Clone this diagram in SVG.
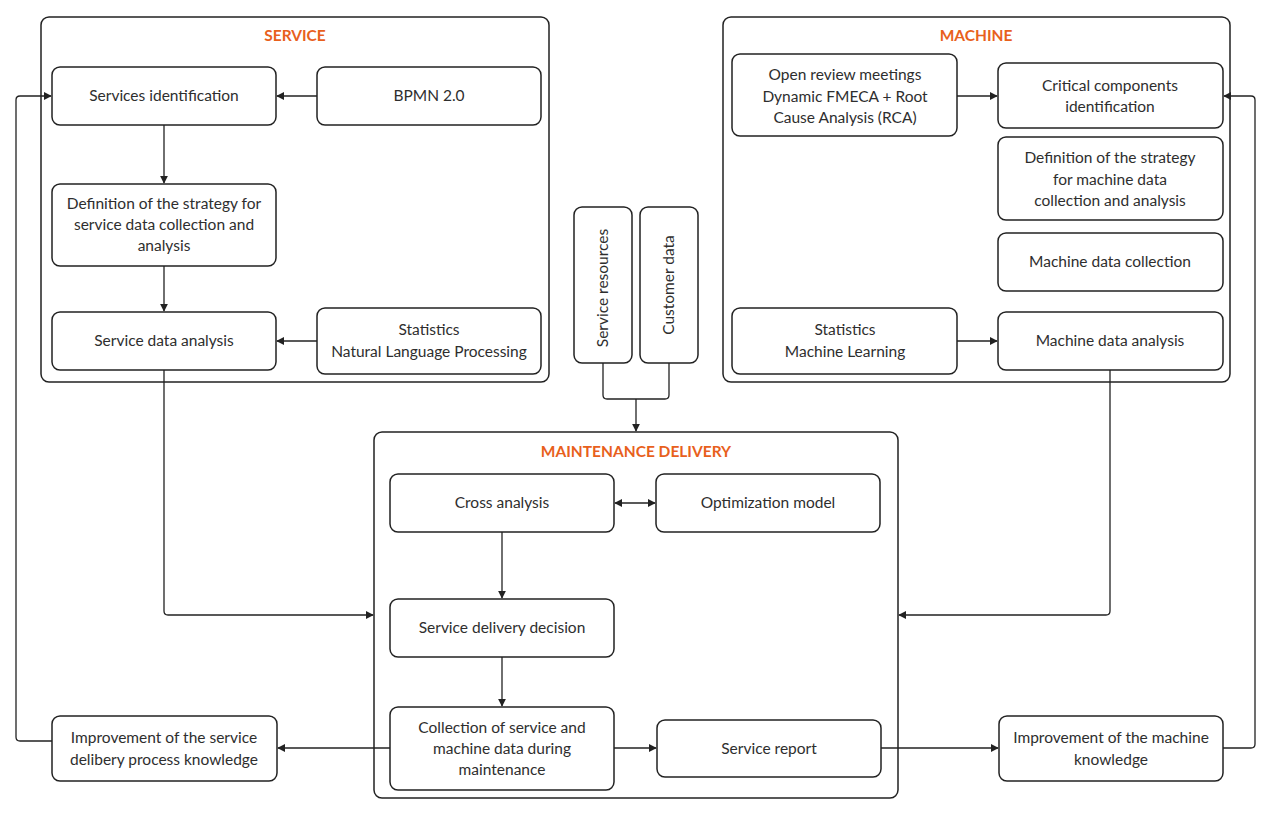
<svg xmlns="http://www.w3.org/2000/svg" width="1272" height="815" viewBox="0 0 1272 815">
<style>
.c{fill:none;stroke:#222;stroke-width:1.5}
.n{fill:#fff;stroke:#222;stroke-width:1.5}
.t{font-family:Lato,"Liberation Sans",sans-serif;font-size:15.5px;fill:#2e2e2e;text-anchor:middle}
.h{font-family:Lato,"Liberation Sans",sans-serif;font-size:15.5px;font-weight:bold;fill:#E8601C;text-anchor:middle}
.e{fill:none;stroke:#222;stroke-width:1.3}
</style>
<defs>
<marker id="a" viewBox="0 0 10 10" refX="9" refY="5" markerWidth="8" markerHeight="8" markerUnits="userSpaceOnUse" orient="auto-start-reverse">
<path d="M0,0 L10,5 L0,10 z" fill="#222"/>
</marker>
</defs>
<rect width="1272" height="815" fill="#fff"/>

<g id="service">
<rect class="c" x="41" y="17" width="508" height="365" rx="8"/>
<text class="h" x="295" y="41">SERVICE</text>
</g>
<g id="machine">
<rect class="c" x="723" y="17" width="507" height="365" rx="8"/>
<text class="h" x="976" y="41">MACHINE</text>
</g>
<g id="maintenance">
<rect class="c" x="374" y="432" width="524" height="366" rx="8"/>
<text class="h" x="636" y="457">MAINTENANCE DELIVERY</text>
</g>

<g id="connectors">
<path class="e" d="M317,96 H277" marker-end="url(#a)"/>
<path class="e" d="M164,125 V183" marker-end="url(#a)"/>
<path class="e" d="M164,266 V311" marker-end="url(#a)"/>
<path class="e" d="M317,341 H277" marker-end="url(#a)"/>
<path class="e" d="M164,370 V611 Q164,615 168,615 H373" marker-end="url(#a)"/>
<path class="e" d="M1110,370 V611 Q1110,615 1106,615 H899" marker-end="url(#a)"/>
<path class="e" d="M957,96 H997" marker-end="url(#a)"/>
<path class="e" d="M957,341 H997" marker-end="url(#a)"/>
<path class="e" d="M615,503 H655" marker-start="url(#a)" marker-end="url(#a)"/>
<path class="e" d="M502,532 V598" marker-end="url(#a)"/>
<path class="e" d="M502,657 V706" marker-end="url(#a)"/>
<path class="e" d="M390,748 H278" marker-end="url(#a)"/>
<path class="e" d="M614,748 H656" marker-end="url(#a)"/>
<path class="e" d="M881,748 H998" marker-end="url(#a)"/>
<path class="e" d="M52,741 H20 Q16,741 16,737 V100 Q16,96 20,96 H51" marker-end="url(#a)"/>
<path class="e" d="M1223,748 H1251 Q1255,748 1255,744 V100 Q1255,96 1251,96 H1224" marker-end="url(#a)"/>
<path class="e" d="M603,363 V395 Q603,399 607,399 H665 Q669,399 669,395 V363"/>
<path class="e" d="M636,399 V431" marker-end="url(#a)"/>
</g>

<g id="services-identification">
<rect class="n" x="52" y="67" width="224" height="58" rx="8"/>
<text class="t" x="164" y="101">Services identification</text>
</g>
<g id="bpmn">
<rect class="n" x="317" y="67" width="224" height="58" rx="8"/>
<text class="t" x="429" y="101">BPMN 2.0</text>
</g>
<g id="service-strategy">
<rect class="n" x="52" y="184" width="224" height="82" rx="8"/>
<text class="t" x="164" y="209">Definition of the strategy for</text>
<text class="t" x="164" y="230">service data collection and</text>
<text class="t" x="164" y="251">analysis</text>
</g>
<g id="service-data-analysis">
<rect class="n" x="52" y="312" width="224" height="58" rx="8"/>
<text class="t" x="164" y="346">Service data analysis</text>
</g>
<g id="stats-nlp">
<rect class="n" x="317" y="308" width="224" height="66" rx="8"/>
<text class="t" x="429" y="335">Statistics</text>
<text class="t" x="429" y="357">Natural Language Processing</text>
</g>

<g id="open-review">
<rect class="n" x="732" y="54" width="225" height="82" rx="8"/>
<text class="t" x="845" y="80">Open review meetings</text>
<text class="t" x="845" y="102">Dynamic FMECA + Root</text>
<text class="t" x="845" y="123">Cause Analysis (RCA)</text>
</g>
<g id="critical-components">
<rect class="n" x="998" y="63" width="225" height="65" rx="8"/>
<text class="t" x="1110" y="91">Critical components</text>
<text class="t" x="1110" y="112">identification</text>
</g>
<g id="machine-strategy">
<rect class="n" x="998" y="137" width="225" height="83" rx="8"/>
<text class="t" x="1110" y="163">Definition of the strategy</text>
<text class="t" x="1110" y="185">for machine data</text>
<text class="t" x="1110" y="206">collection and analysis</text>
</g>
<g id="machine-data-collection">
<rect class="n" x="998" y="233" width="225" height="58" rx="8"/>
<text class="t" x="1110" y="267">Machine data collection</text>
</g>
<g id="stats-ml">
<rect class="n" x="732" y="308" width="225" height="66" rx="8"/>
<text class="t" x="845" y="335">Statistics</text>
<text class="t" x="845" y="357">Machine Learning</text>
</g>
<g id="machine-data-analysis">
<rect class="n" x="998" y="312" width="225" height="58" rx="8"/>
<text class="t" x="1110" y="346">Machine data analysis</text>
</g>

<g id="service-resources">
<rect class="n" x="574" y="207" width="58" height="156" rx="8"/>
<text class="t" transform="translate(608,288) rotate(-90)">Service resources</text>
</g>
<g id="customer-data">
<rect class="n" x="640" y="207" width="58" height="156" rx="8"/>
<text class="t" transform="translate(674,285) rotate(-90)">Customer data</text>
</g>

<g id="cross-analysis">
<rect class="n" x="390" y="474" width="224" height="58" rx="8"/>
<text class="t" x="502" y="508">Cross analysis</text>
</g>
<g id="optimization-model">
<rect class="n" x="656" y="474" width="224" height="58" rx="8"/>
<text class="t" x="768" y="508">Optimization model</text>
</g>
<g id="service-delivery-decision">
<rect class="n" x="390" y="599" width="224" height="58" rx="8"/>
<text class="t" x="502" y="633">Service delivery decision</text>
</g>
<g id="collection">
<rect class="n" x="390" y="707" width="224" height="83" rx="8"/>
<text class="t" x="502" y="733">Collection of service and</text>
<text class="t" x="502" y="754">machine data during</text>
<text class="t" x="502" y="775">maintenance</text>
</g>
<g id="service-report">
<rect class="n" x="657" y="720" width="224" height="57" rx="8"/>
<text class="t" x="769" y="754">Service report</text>
</g>
<g id="improvement-service">
<rect class="n" x="52" y="716" width="225" height="65" rx="8"/>
<text class="t" x="164" y="743">Improvement of the service</text>
<text class="t" x="164" y="765">delibery process knowledge</text>
</g>
<g id="improvement-machine">
<rect class="n" x="999" y="716" width="224" height="65" rx="8"/>
<text class="t" x="1111" y="743">Improvement of the machine</text>
<text class="t" x="1111" y="765">knowledge</text>
</g>
</svg>
